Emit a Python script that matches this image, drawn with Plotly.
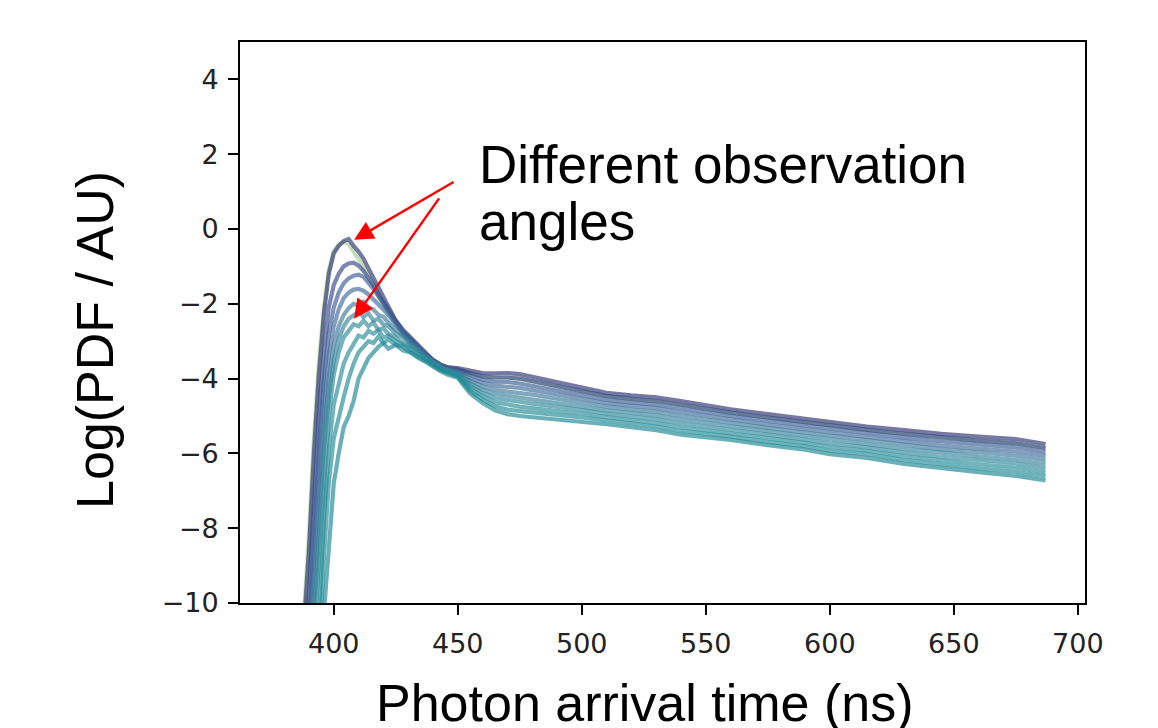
import plotly.graph_objects as go

# ---------------- data ----------------
time_ns = [378, 384, 388, 390, 392, 394, 396, 398, 400, 402, 404, 406, 408, 410,
           412, 414, 416, 418, 420, 422, 425, 428, 431, 434, 437, 440, 443, 446,
           450, 455, 460, 465, 470, 475, 480, 490, 500, 510, 520, 530, 540, 550,
           560, 575, 590, 600, 615, 630, 645, 660, 675, 687]

# rising edge + peak region (378..446), then tail (450..687)
angle_0 = [-16.0, -13.0, -10.6, -8.6, -6.0, -3.9, -2.3, -1.2, -0.65, -0.45, -0.32, -0.27, -0.45, -0.6,
           -0.8, -1.05, -1.3, -1.6, -1.85, -2.1, -2.45, -2.7, -2.9, -3.12, -3.32, -3.5, -3.63, -3.7,
           -3.72, -3.78, -3.85, -3.86, -3.85, -3.88, -3.95, -4.10, -4.25, -4.38, -4.45, -4.50, -4.60, -4.72,
           -4.82, -4.95, -5.08, -5.15, -5.28, -5.38, -5.48, -5.55, -5.62, -5.75]
angle_1 = [-16.5, -13.5, -11.2, -9.8, -7.2, -5.0, -3.3, -2.1, -1.5, -1.2, -1.0, -0.92, -0.9, -0.98,
           -1.12, -1.3, -1.5, -1.75, -1.95, -2.2, -2.5, -2.75, -2.95, -3.15, -3.35, -3.5, -3.62, -3.7,
           -3.75, -3.85, -3.94, -3.97, -3.97, -4.00, -4.07, -4.21, -4.35, -4.47, -4.54, -4.60, -4.70, -4.81,
           -4.91, -5.04, -5.17, -5.25, -5.37, -5.48, -5.58, -5.66, -5.73, -5.86]
angle_2 = [-17.0, -14.0, -11.8, -10.5, -8.2, -5.8, -4.0, -2.8, -2.1, -1.7, -1.45, -1.32, -1.25, -1.22,
           -1.28, -1.42, -1.6, -1.8, -2.0, -2.22, -2.5, -2.75, -2.95, -3.15, -3.35, -3.52, -3.64, -3.72,
           -3.78, -3.92, -4.03, -4.08, -4.09, -4.13, -4.19, -4.32, -4.45, -4.57, -4.64, -4.70, -4.80, -4.91,
           -5.00, -5.13, -5.26, -5.34, -5.47, -5.58, -5.68, -5.76, -5.84, -5.97]
angle_3 = [-17.0, -14.5, -12.3, -11.0, -9.0, -6.6, -4.7, -3.4, -2.6, -2.15, -1.85, -1.7, -1.62, -1.6,
           -1.65, -1.75, -1.88, -2.0, -2.15, -2.3, -2.55, -2.8, -3.0, -3.2, -3.38, -3.55, -3.66, -3.74,
           -3.81, -3.99, -4.12, -4.19, -4.22, -4.25, -4.31, -4.43, -4.55, -4.66, -4.73, -4.79, -4.90, -5.00,
           -5.09, -5.23, -5.35, -5.44, -5.56, -5.68, -5.79, -5.87, -5.95, -6.07]
angle_4 = [-17.5, -15.0, -12.8, -11.5, -9.8, -7.4, -5.4, -4.0, -3.1, -2.6, -2.3, -2.12, -2.0, -2.05,
           -1.95, -2.1, -2.15, -2.3, -2.35, -2.5, -2.7, -2.85, -3.05, -3.2, -3.4, -3.55, -3.68, -3.76,
           -3.84, -4.06, -4.21, -4.30, -4.34, -4.38, -4.43, -4.54, -4.65, -4.75, -4.83, -4.89, -5.00, -5.10,
           -5.18, -5.32, -5.44, -5.54, -5.65, -5.78, -5.89, -5.97, -6.06, -6.18]
angle_5 = [-18.0, -15.5, -13.2, -12.0, -10.5, -8.2, -6.0, -4.5, -3.5, -2.95, -2.6, -2.4, -2.3, -2.22,
           -2.35, -2.25, -2.45, -2.4, -2.55, -2.6, -2.8, -2.9, -3.1, -3.25, -3.42, -3.58, -3.7, -3.78,
           -3.87, -4.13, -4.30, -4.41, -4.46, -4.50, -4.55, -4.65, -4.75, -4.85, -4.92, -4.99, -5.10, -5.19,
           -5.28, -5.41, -5.54, -5.64, -5.75, -5.88, -5.99, -6.08, -6.17, -6.29]
angle_6 = [-18.0, -16.0, -13.8, -12.5, -11.0, -9.0, -6.8, -5.0, -3.9, -3.3, -2.9, -2.7, -2.55, -2.6,
           -2.45, -2.6, -2.5, -2.7, -2.65, -2.8, -2.9, -3.05, -3.15, -3.3, -3.45, -3.6, -3.72, -3.8,
           -3.89, -4.19, -4.38, -4.52, -4.58, -4.62, -4.67, -4.75, -4.84, -4.94, -5.01, -5.09, -5.20, -5.28,
           -5.37, -5.50, -5.63, -5.73, -5.84, -5.98, -6.09, -6.19, -6.27, -6.40]
angle_7 = [-18.5, -16.5, -14.2, -13.0, -12.5, -10.5, -7.8, -5.9, -4.7, -4.1, -3.6, -3.3, -3.05, -2.85,
           -2.9, -2.72, -2.8, -2.7, -2.9, -2.85, -3.0, -3.1, -3.2, -3.35, -3.5, -3.62, -3.74, -3.82,
           -3.92, -4.26, -4.47, -4.63, -4.70, -4.75, -4.79, -4.86, -4.94, -5.03, -5.11, -5.19, -5.30, -5.38,
           -5.46, -5.59, -5.72, -5.83, -5.93, -6.08, -6.19, -6.29, -6.38, -6.51]
angle_8 = [-19.0, -17.0, -14.8, -13.5, -12.6, -11.3, -8.8, -6.8, -5.6, -5.0, -4.5, -4.0, -3.6, -3.3,
           -3.15, -3.0, -3.05, -2.88, -3.05, -2.95, -3.1, -3.15, -3.3, -3.4, -3.52, -3.65, -3.77, -3.85,
           -3.95, -4.33, -4.56, -4.74, -4.83, -4.87, -4.91, -4.97, -5.04, -5.12, -5.20, -5.28, -5.40, -5.47,
           -5.55, -5.69, -5.81, -5.93, -6.02, -6.18, -6.30, -6.40, -6.49, -6.61]
angle_9 = [-19.5, -17.5, -15.4, -14.0, -12.5, -11.3, -10.3, -8.5, -6.8, -6.0, -5.3, -5.0, -4.6, -4.0,
           -3.7, -3.45, -3.3, -3.15, -3.05, -3.2, -3.1, -3.25, -3.3, -3.45, -3.55, -3.68, -3.8, -3.9,
           -3.98, -4.40, -4.65, -4.85, -4.95, -5.00, -5.03, -5.08, -5.14, -5.22, -5.30, -5.38, -5.50, -5.57,
           -5.64, -5.78, -5.90, -6.02, -6.12, -6.28, -6.40, -6.50, -6.60, -6.72]
angle_green = [-16.0, -12.8, -10.3, -8.2, -5.6, -3.6, -2.1, -1.1, -0.6, -0.42, -0.35, -0.4, -0.6, -0.8,
               -1.0, -1.25, -1.5, -1.75, -2.0, -2.25, -2.55, -2.8, -3.0, -3.2, -3.38, -3.53, -3.65, -3.72,
               -3.75, -3.85, -3.94, -3.97, -3.97, -4.00, -4.07, -4.21, -4.35, -4.47, -4.54, -4.60, -4.70, -4.81,
               -4.91, -5.04, -5.17, -5.25, -5.37, -5.48, -5.58, -5.66, -5.73, -5.86]

curves = [angle_0, angle_1, angle_2, angle_3, angle_4, angle_5, angle_6, angle_7, angle_8, angle_9]
curve_colors = ["#2c3172", "#34468a", "#3a5a93", "#3d6a98", "#3b7899",
                "#36839a", "#2f8a9a", "#288c98", "#218a95", "#1c8692"]
green_color = "#a5cd90"

x_ticks = [400, 450, 500, 550, 600, 650, 700]
y_ticks = [-10, -8, -6, -4, -2, 0, 2, 4]
y_tick_text = [("\u2212" + str(-v)) if v < 0 else str(v) for v in y_ticks]


def rgba(hx, a):
    h = hx.lstrip("#")
    r, g, b = int(h[0:2], 16), int(h[2:4], 16), int(h[4:6], 16)
    return f"rgba({r},{g},{b},{a})"


fig = go.Figure()
fig.add_trace(go.Scatter(x=time_ns, y=angle_green, mode="lines",
                         line=dict(color=rgba(green_color, 0.65), width=4.2),
                         showlegend=False, hoverinfo="skip"))
for ys, col in zip(curves, curve_colors):
    fig.add_trace(go.Scatter(x=time_ns, y=ys, mode="lines",
                             line=dict(color=rgba(col, 0.65), width=4.2),
                             showlegend=False, hoverinfo="skip"))

W, H = 1158, 728
L, R, T, B = 240, 1085, 42, 603


def px(xp):
    return (xp - L) / (R - L)


def py(yp):
    return (B - yp) / (B - T)


fig.update_layout(
    width=W, height=H,
    margin=dict(l=L, r=W - R, t=T, b=H - B),
    paper_bgcolor="white", plot_bgcolor="white",
    showlegend=False,
)
axis_common = dict(showline=True, linecolor="black", linewidth=1.8, mirror=True,
                   ticks="outside", ticklen=10, tickwidth=1.8, tickcolor="black",
                   showgrid=False, zeroline=False,
                   tickfont=dict(family="DejaVu Sans", size=27, color="#222"))
fig.update_xaxes(range=[362.2, 702.9], tickvals=x_ticks, ticktext=[str(v) for v in x_ticks],
                 ticklabelstandoff=6, **axis_common)
fig.update_yaxes(range=[-10, 5], tickvals=y_ticks, ticktext=y_tick_text,
                 ticklabelstandoff=4, **axis_common)

title_font = dict(family="Liberation Sans, Arial", size=52, color="black")
fig.add_annotation(xref="paper", yref="paper", x=px(645), y=py(703), text="Photon arrival time (ns)",
                   showarrow=False, xanchor="center", yanchor="middle", font=title_font)
fig.add_annotation(xref="paper", yref="paper", x=px(95), y=py(340), text="Log(PDF / AU)",
                   textangle=-90, showarrow=False, xanchor="center", yanchor="middle", font=title_font)

note_font = dict(family="Liberation Sans, Arial", size=53, color="black")
fig.add_annotation(xref="paper", yref="paper", x=px(477), y=py(164), text="Different observation",
                   showarrow=False, xanchor="left", yanchor="middle", font=note_font)
fig.add_annotation(xref="paper", yref="paper", x=px(477), y=py(222), text="angles",
                   showarrow=False, xanchor="left", yanchor="middle", font=note_font)

# red arrows (head at data point, tail near the label)
for head, tail in [((408.2, -0.29), (448.9, 1.28)), ((408.2, -2.4), (442.9, 0.86))]:
    fig.add_annotation(x=head[0], y=head[1], ax=tail[0], ay=tail[1], xref="x", yref="y",
                       axref="x", ayref="y", text="", showarrow=True, arrowhead=2,
                       arrowsize=1.6, arrowwidth=2.4, arrowcolor="#ff0000", standoff=0)

fig.write_html("out.html")
